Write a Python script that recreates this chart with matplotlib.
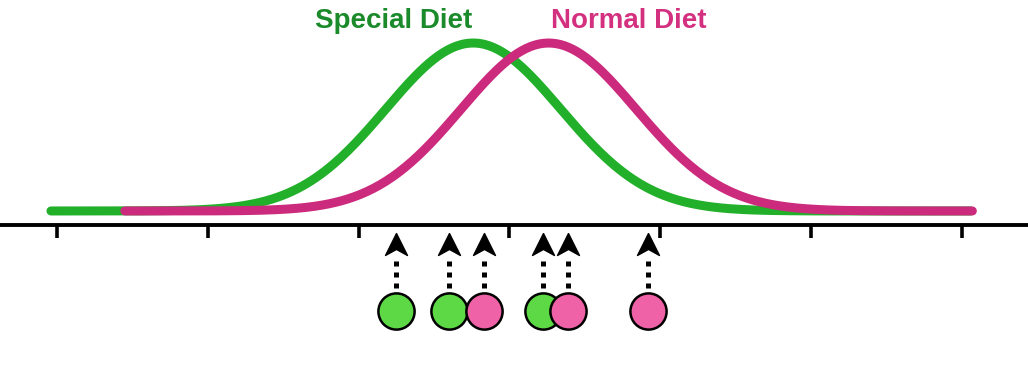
import numpy as np
import matplotlib
matplotlib.use('Agg')
from matplotlib import pyplot as plt

# curve parameters (tick spacing = 1 unit)
special_mean = 2.76
normal_mean = 3.26
sd = 0.58
special_range = [-0.04, 6.06]
normal_range = [0.45, 6.07]

# measured points
special_pts = [2.25, 2.60, 3.22]
normal_pts = [2.83, 3.39, 3.92]

tick_pos = [0, 1, 2, 3, 4, 5, 6]
labels = ['Special Diet', 'Normal Diet']
label_x = [2.23, 3.79]

line_green = '#22b02b'
line_pink = '#cc2a7c'
text_green = '#1b8a2b'
text_pink = '#d3307f'
dot_green = '#5ed946'
dot_pink = '#f062a8'

plt.rcParams['font.family'] = ['Liberation Sans', 'DejaVu Sans']

# layout levels (in data units of the y axis)
axis_y = -0.057
dot_y = -0.41
head_y = -0.137
stem_top = -0.186
stem_bot = -0.315
text_y = 0.75

def pdf(x, m, s):
    return np.exp(-0.5 * ((x - m) / s) ** 2) / (s * np.sqrt(2 * np.pi))

fig = plt.figure(figsize=(10.28, 3.88), dpi=100, facecolor='w')
ax = fig.add_axes([0, 0, 1, 1])
ax.set_xlim(-0.378, 6.439)
ax.set_ylim(-0.725, 0.864)

xs = np.linspace(special_range[0], special_range[1], 400)
ax.plot(xs, pdf(xs, special_mean, sd), color=line_green, lw=6.5, solid_capstyle='round', zorder=2)
xs = np.linspace(normal_range[0], normal_range[1], 400)
ax.plot(xs, pdf(xs, normal_mean, sd), color=line_pink, lw=6.5, solid_capstyle='round', zorder=3)

ax.text(label_x[0], text_y, labels[0], color=text_green, fontsize=20, fontweight='bold', ha='center', va='baseline')
ax.text(label_x[1], text_y, labels[1], color=text_pink, fontsize=20, fontweight='bold', ha='center', va='baseline')

# dotted stems and arrow heads
all_pts = special_pts + normal_pts
ax.vlines(all_pts, stem_bot, stem_top, color='black', lw=3.6, linestyles=[(0, (1.0, 1.2))], capstyle='butt', zorder=1)
head = [(0, 1), (1, -1), (0, -0.45), (-1, -1), (0, 1)]
ax.scatter(all_pts, [head_y] * len(all_pts), marker=head, s=250, color='black', zorder=1)

ax.scatter(special_pts, [dot_y] * len(special_pts), s=680, color=dot_green, edgecolors='black', linewidths=1.8, zorder=4)
ax.scatter(normal_pts, [dot_y] * len(normal_pts), s=680, color=dot_pink, edgecolors='black', linewidths=1.8, zorder=5)

for s in ['top', 'left', 'right']:
    ax.spines[s].set_visible(False)
ax.spines['bottom'].set_position(('data', axis_y))
ax.spines['bottom'].set_linewidth(2.8)
ax.set_xticks(tick_pos)
ax.set_xticklabels([])
ax.set_yticks([])
ax.tick_params(axis='x', direction='out', length=9.5, width=2.6)

plt.savefig('out.png', dpi=100, facecolor='w')
plt.close()
